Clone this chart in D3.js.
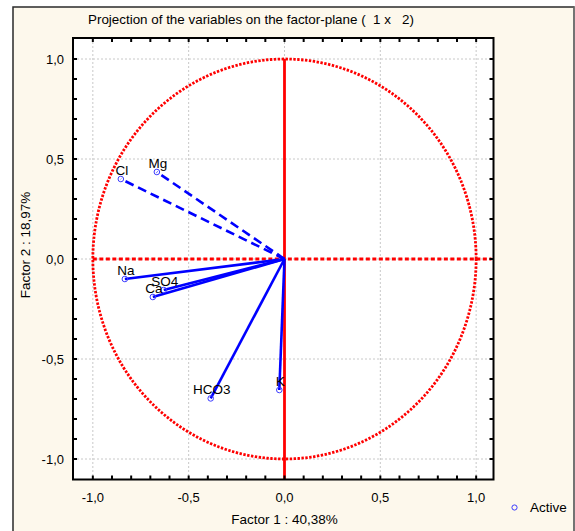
<!DOCTYPE html>
<html>
<head>
<meta charset="utf-8">
<script src="https://cdn.jsdelivr.net/npm/d3@7"></script>
<style>
  html, body { margin: 0; padding: 0; background: #ffffff; }
  svg { display: block; font-family: "Liberation Sans", Arial, sans-serif; }
</style>
</head>
<body>
<svg id="chart" width="575" height="531"></svg>
<script>
// ---- Data ----
const variables = ["Cl", "Mg", "Na", "SO4", "Ca", "HCO3", "K"];
const factor1 = [-0.854, -0.666, -0.833, -0.630, -0.687, -0.385, -0.027];
const factor2 = [0.400, 0.435, -0.100, -0.155, -0.190, -0.697, -0.655];
const tickValues = [-1.0, -0.5, 0.0, 0.5, 1.0];
const tickLabels = ["-1,0", "-0,5", "0,0", "0,5", "1,0"];
const titleText = "Projection of the variables on the factor-plane (  1 x   2)";
const xAxisTitle = "Factor 1 : 40,38%";
const yAxisTitle = "Factor 2 : 18,97%";
const legendLabel = "Active";

// ---- Layout ----
const svg = d3.select("#chart");
const plot = { left: 73, right: 493.5, top: 38, bottom: 479.5 };
const x = d3.scaleLinear().domain([-1.1035, 1.0905]).range([plot.left, plot.right]);
const y = d3.scaleLinear().domain([-1.1025, 1.105]).range([plot.bottom, plot.top]);

const dashedVars = new Set(["Cl", "Mg"]);
const blue = "#0000ff";
const red = "#ff0000";

// Outer panel
svg.append("rect").attr("x", 13).attr("y", 7).attr("width", 561).attr("height", 530)
  .attr("fill", "#fdf8ec").attr("stroke", "#2a2a2a").attr("stroke-width", 1.5);
svg.append("line").attr("x1", 574).attr("x2", 574).attr("y1", 7).attr("y2", 531)
  .attr("stroke", "#8a8a8a").attr("stroke-width", 1);

// Plot background
svg.append("rect").attr("x", plot.left).attr("y", plot.top)
  .attr("width", plot.right - plot.left).attr("height", plot.bottom - plot.top)
  .attr("fill", "#ffffff");

// Grid
const grid = svg.append("g");
tickValues.forEach(v => {
  grid.append("line").attr("x1", x(v)).attr("x2", x(v)).attr("y1", plot.top).attr("y2", plot.bottom)
    .attr("stroke", "#c8c8c8").attr("stroke-width", 1).attr("stroke-dasharray", "2,2");
  grid.append("line").attr("y1", y(v)).attr("y2", y(v)).attr("x1", plot.left).attr("x2", plot.right)
    .attr("stroke", "#c8c8c8").attr("stroke-width", 1).attr("stroke-dasharray", "2,2");
});

// Unit circle
const angles = d3.range(0, 361, 1).map(a => a * Math.PI / 180);
const circleLine = d3.line().x(a => x(Math.cos(a))).y(a => y(Math.sin(a)));
svg.append("path").datum(angles).attr("d", circleLine)
  .attr("fill", "none").attr("stroke", red).attr("stroke-width", 2.8)
  .attr("stroke-dasharray", "2.4,1.5");

// Red axes through origin
svg.append("line").attr("x1", x(-1)).attr("x2", x(1.08)).attr("y1", y(0)).attr("y2", y(0))
  .attr("stroke", red).attr("stroke-width", 2.8).attr("stroke-dasharray", "4,2.5");
svg.append("line").attr("x1", x(0)).attr("x2", x(0)).attr("y1", y(1)).attr("y2", plot.bottom)
  .attr("stroke", red).attr("stroke-width", 2.8);

// Vectors
const vec = svg.append("g");
variables.forEach((v, i) => {
  vec.append("line")
    .attr("x1", x(0)).attr("y1", y(0))
    .attr("x2", x(factor1[i])).attr("y2", y(factor2[i]))
    .attr("stroke", blue).attr("stroke-width", 2.6)
    .attr("stroke-dasharray", dashedVars.has(v) ? "9,5" : null);
});
variables.forEach((v, i) => {
  vec.append("circle").attr("cx", x(factor1[i])).attr("cy", y(factor2[i])).attr("r", 2.8)
    .attr("fill", "none").attr("stroke", "#3c3cff").attr("stroke-width", 1);
  vec.append("text").attr("x", x(factor1[i]) + 1).attr("y", y(factor2[i]) - 4.5)
    .attr("text-anchor", "middle").attr("font-size", 13.5).attr("fill", "#000")
    .text(v);
});

// Frame
svg.append("rect").attr("x", plot.left).attr("y", plot.top)
  .attr("width", plot.right - plot.left).attr("height", plot.bottom - plot.top)
  .attr("fill", "none").attr("stroke", "#000").attr("stroke-width", 2);

// Minor ticks (inward) every 0.1 on all sides
const minor = d3.range(-11, 12).map(k => k / 10).filter(v => v >= -1.1 && v <= 1.1);
const tg = svg.append("g").attr("stroke", "#000").attr("stroke-width", 2);
minor.forEach(v => {
  const xv = x(v), yv = y(v);
  if (xv > plot.left + 1 && xv < plot.right - 1) {
    tg.append("line").attr("x1", xv).attr("x2", xv).attr("y1", plot.bottom).attr("y2", plot.bottom - 4);
    tg.append("line").attr("x1", xv).attr("x2", xv).attr("y1", plot.top).attr("y2", plot.top + 4);
  }
  if (yv > plot.top + 1 && yv < plot.bottom - 1) {
    tg.append("line").attr("y1", yv).attr("y2", yv).attr("x1", plot.left).attr("x2", plot.left + 4);
    tg.append("line").attr("y1", yv).attr("y2", yv).attr("x1", plot.right).attr("x2", plot.right - 4);
  }
});

// Tick labels
tickValues.forEach((v, i) => {
  svg.append("text").attr("x", x(v)).attr("y", 502).attr("text-anchor", "middle")
    .attr("font-size", 13).attr("fill", "#000").text(tickLabels[i]);
  svg.append("text").attr("x", 64).attr("y", y(v) + 4.5).attr("text-anchor", "end")
    .attr("font-size", 13).attr("fill", "#000").text(tickLabels[i]);
});

// Titles
svg.append("text").attr("x", 88).attr("y", 24).attr("font-size", 13.4).attr("fill", "#000")
  .attr("xml:space", "preserve").style("white-space", "pre").text(titleText);
svg.append("text").attr("x", x(0)).attr("y", 524).attr("text-anchor", "middle")
  .attr("font-size", 13.5).attr("fill", "#000").text(xAxisTitle);
svg.append("text").attr("transform", "translate(30,245) rotate(-90)").attr("text-anchor", "middle")
  .attr("font-size", 13.5).attr("fill", "#000").text(yAxisTitle);

// Legend
svg.append("circle").attr("cx", 514.5).attr("cy", 507.5).attr("r", 2.6)
  .attr("fill", "none").attr("stroke", "#3c3cff").attr("stroke-width", 1);
svg.append("text").attr("x", 530).attr("y", 512).attr("font-size", 13.5).attr("fill", "#000")
  .text(legendLabel);
</script>
</body>
</html>
